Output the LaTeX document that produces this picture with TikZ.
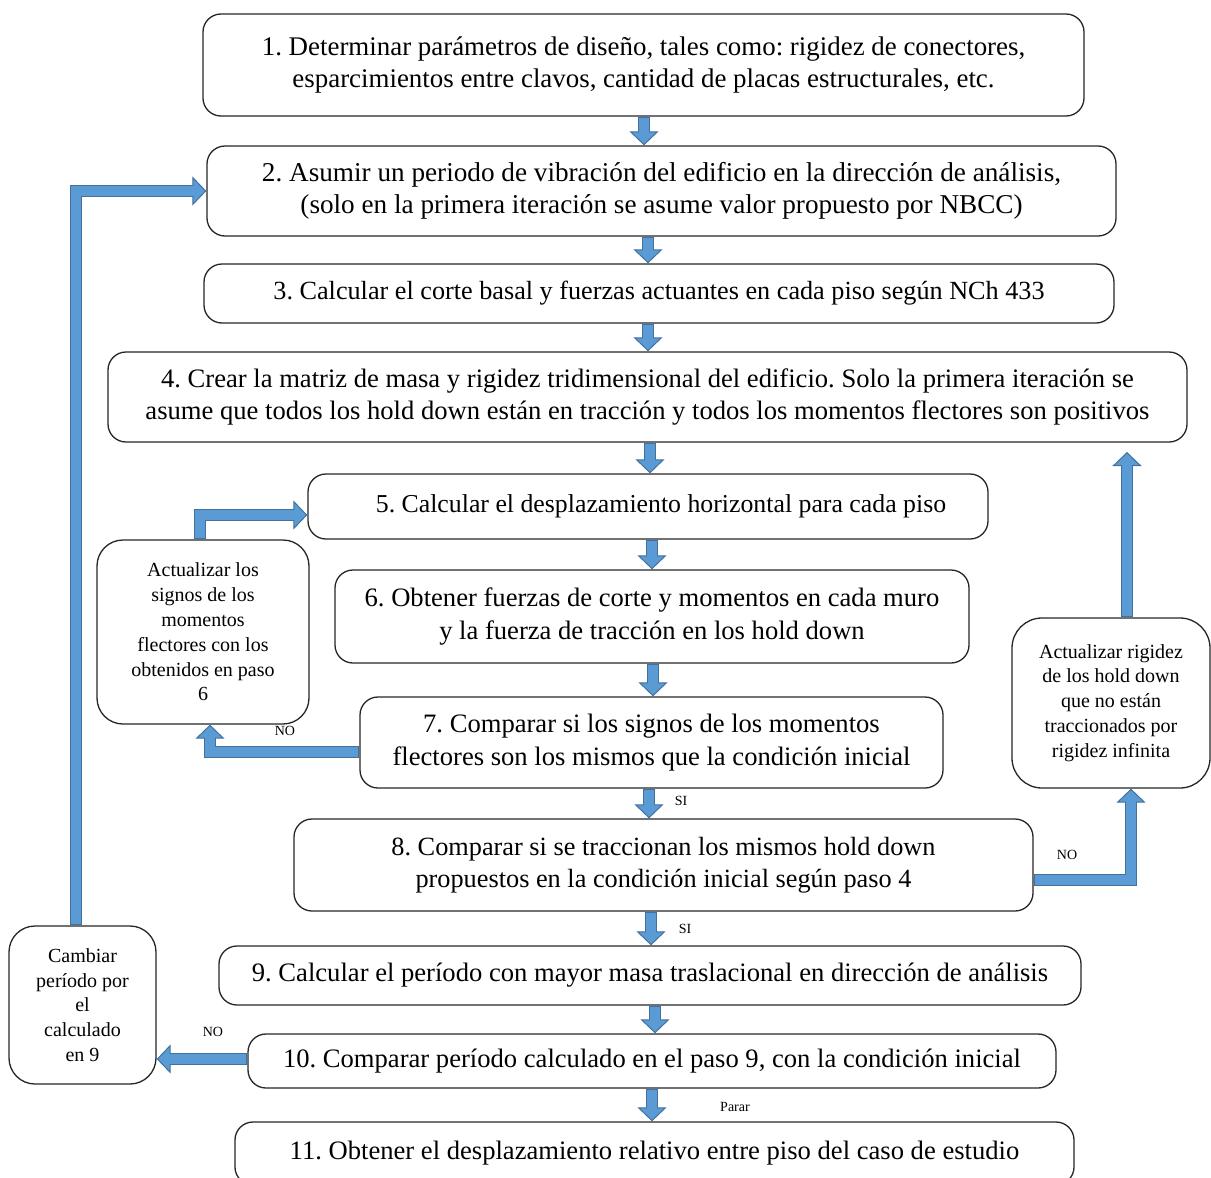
\documentclass[tikz,border=0pt]{standalone}
\usepackage{fontspec}
\setmainfont{Liberation Serif}
\usetikzlibrary{arrows.meta}
\frenchspacing

\definecolor{ablue}{HTML}{5B9BD5}
\definecolor{adark}{HTML}{41719C}

\newcommand{\stepfont}[1]{\fontsize{#1pt}{32.5pt}\selectfont}

\tikzset{
  box/.style={draw=black!85, line width=1.3pt, fill=white, rounded corners=18pt,
    align=center, inner sep=0pt, font=\stepfont{26.6}},
  sidebox/.style={box, rounded corners=26pt, font=\fontsize{20pt}{24.8pt}\selectfont},
  tag/.style={font=\fontsize{14pt}{16pt}\selectfont, inner sep=0pt},
  % block arrow: dark outline band, outlined head, light fill band on top
  blockarrow/.style={
    draw=adark, line width=1pt, line join=miter,
    arrows={-Triangle[width=29pt,length=14pt,fill=ablue]},
    preaction={draw=adark, line width=12pt, arrows=-, shorten >=13pt},
    postaction={draw=ablue, line width=10pt, arrows=-, shorten >=11pt, shorten <=1pt}
  }
}

\begin{document}
\begin{tikzpicture}[x=1pt,y=-1pt]
\useasboundingbox (0,0) rectangle (1211,1178);
\clip (0,0) rectangle (1211,1178);

% main sequence of steps
\node[box, font=\stepfont{26.9}, minimum width=881pt, minimum height=102pt] (b1) at (643.5,65)
  {1. Determinar parámetros de diseño, tales como: rigidez de conectores,\\
   esparcimientos entre clavos, cantidad de placas estructurales, etc.};
\node[box, font=\stepfont{27.2}, minimum width=909pt, minimum height=90pt] (b2) at (661.5,191)
  {2. Asumir un periodo de vibración del edificio en la dirección de análisis,\\
   (solo en la primera iteración se asume valor propuesto por NBCC)};
\node[box, font=\stepfont{26.2}, minimum width=910pt, minimum height=59pt] (b3) at (659,293.5)
  {3. Calcular el corte basal y fuerzas actuantes en cada piso según NCh 433};
\node[box, minimum width=1079pt, minimum height=90pt] (b4) at (647.5,397)
  {4. Crear la matriz de masa y rigidez tridimensional del edificio. Solo la primera iteración se\\
   asume que todos los hold down están en tracción y todos los momentos flectores son positivos};
\node[box, font=\stepfont{25.8}, minimum width=680pt, minimum height=65pt] (b5) at (648,506.5)
  {\hspace*{26pt}5. Calcular el desplazamiento horizontal para cada piso};
\node[box, minimum width=634pt, minimum height=93pt] (b6) at (652,616.5)
  {6. Obtener fuerzas de corte y momentos en cada muro\\
   y la fuerza de tracción en los hold down};
\node[box, minimum width=583pt, minimum height=91pt] (b7) at (651.5,742.5)
  {7. Comparar si los signos de los momentos\\
   flectores son los mismos que la condición inicial};
\node[box, font=\stepfont{26.3}, minimum width=739pt, minimum height=92pt] (b8) at (663.5,865)
  {8. Comparar si se traccionan los mismos hold down\\
   propuestos en la condición inicial según paso 4};
\node[box, minimum width=862pt, minimum height=59pt] (b9) at (650,975.5)
  {9. Calcular el período con mayor masa traslacional en dirección de análisis};
\node[box, minimum width=808pt, minimum height=54pt] (b10) at (652,1061)
  {10. Comparar período calculado en el paso 9, con la condición inicial};
\node[box, minimum width=839pt, minimum height=63pt] (b11) at (654.5,1153.5)
  {11. Obtener el desplazamiento relativo entre piso del caso de estudio};

% side boxes of the loops
\node[sidebox, minimum width=212pt, minimum height=184pt] (sa) at (203,632)
  {\raisebox{-3pt}{\parbox{200pt}{\centering Actualizar los\\ signos de los\\ momentos\\ flectores con los\\ obtenidos en paso\\ 6}}};
\node[sidebox, rounded corners=30pt, minimum width=198pt, minimum height=170pt] (sb) at (1111,703)
  {Actualizar rigidez\\ de los hold down\\ que no están\\ traccionados por\\ rigidez infinita};
\node[sidebox, minimum width=147pt, minimum height=158pt] (sc) at (82.5,1005)
  {Cambiar\\ período por\\ el\\ calculado\\ en 9};

% arrow positions
\coordinate (x1) at (644,0);
\coordinate (x2) at (648,0);
\coordinate (x3) at (648,0);
\coordinate (x4) at (650,0);
\coordinate (x5) at (652,0);
\coordinate (x6) at (653,0);
\coordinate (x7) at (649,0);
\coordinate (x8) at (651,0);
\coordinate (x9) at (655,0);
\coordinate (x10) at (652,0);
\coordinate (ka) at (200,515);
\coordinate (k7) at (210,752);
\coordinate (k8) at (1131,880);
\coordinate (kb) at (1127,452);
\coordinate (k10) at (0,1059);
\coordinate (kc) at (76,0);

% straight flow
\draw[blockarrow] (b1.south -| x1) -- (b2.north -| x1);
\draw[blockarrow] (b2.south -| x2) -- (b3.north -| x2);
\draw[blockarrow] (b3.south -| x3) -- (b4.north -| x3);
\draw[blockarrow] (b4.south -| x4) -- (b5.north -| x4);
\draw[blockarrow] (b5.south -| x5) -- (b6.north -| x5);
\draw[blockarrow] (b6.south -| x6) -- (b7.north -| x6);
\draw[blockarrow] (b7.south -| x7) -- (b8.north -| x7);
\draw[blockarrow] (b8.south -| x8) -- (b9.north -| x8);
\draw[blockarrow] (b9.south -| x9) -- (b10.north -| x9);
\draw[blockarrow] (b10.south -| x10) -- (b11.north -| x10);

% loops
\draw[blockarrow] (sa.north -| ka) |- (b5.west |- ka);
\draw[blockarrow] (b7.west |- k7) -| (sa.south -| k7);
\draw[blockarrow] (b8.east |- k8) -| (sb.south -| k8);
\draw[blockarrow] (sb.north -| kb) -- (kb);
\draw[blockarrow] (b10.west |- k10) -- (sc.east |- k10);
\draw[blockarrow] (sc.north -| kc) |- (b2.west);

% decision labels
\node[tag] (no7) at (285,731) {NO};
\node[tag] (si7) at (681,801) {SI};
\node[tag] (no8) at (1067,855) {NO};
\node[tag] (si8) at (685,929) {SI};
\node[tag] (no10) at (213,1032) {NO};
\node[tag] (stop) at (735,1107) {Parar};
\end{tikzpicture}
\end{document}
